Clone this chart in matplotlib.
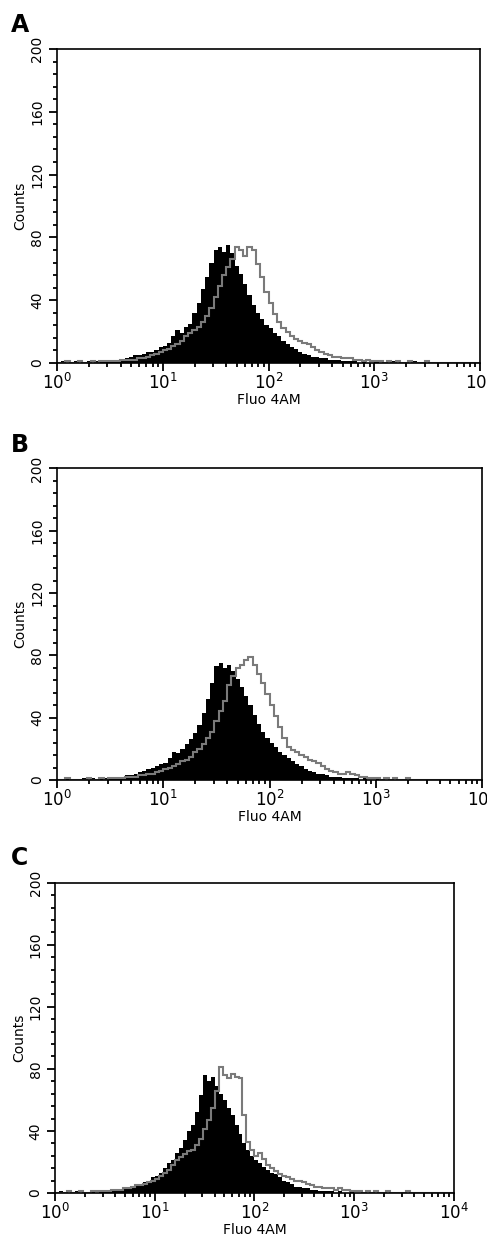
import matplotlib.pyplot as plt
import numpy as np
from matplotlib.ticker import MultipleLocator, LogLocator

# --------------------
# 0. data: counts per channel, 100 log channels from 10^0 to 10^4
n_bins = 100
x_min, x_max = 1, 1e4

A_black = [0, 1, 0, 0, 1, 0, 0, 1, 0, 1,
           1, 1, 1, 2, 2, 2, 3, 4, 5, 5,
           6, 7, 7, 8, 10, 11, 13, 17, 21, 19,
           23, 25, 32, 38, 47, 55, 64, 72, 74, 71,
           75, 70, 62, 57, 50, 43, 37, 32, 28, 24,
           22, 19, 17, 14, 12, 10, 9, 7, 6, 5,
           4, 4, 3, 3, 2, 2, 2, 1, 1, 1,
           1, 0, 1, 0, 0, 1, 0, 0, 0, 1,
           0, 0, 0, 0, 1, 0, 0, 0, 0, 0,
           0, 0, 0, 0, 0, 0, 0, 0, 0, 0]
A_gray = [0, 0, 1, 0, 0, 1, 0, 0, 1, 0,
          1, 1, 1, 1, 1, 2, 2, 2, 2, 3,
          3, 4, 5, 6, 7, 8, 9, 11, 12, 14,
          17, 19, 21, 23, 26, 30, 35, 42, 49, 56,
          61, 66, 74, 72, 68, 74, 72, 63, 55, 45,
          38, 31, 26, 22, 20, 17, 15, 14, 13, 12,
          10, 8, 7, 6, 5, 4, 4, 3, 3, 3,
          2, 2, 1, 2, 1, 1, 1, 0, 1, 0,
          1, 0, 0, 1, 0, 0, 0, 1, 0, 0,
          0, 0, 0, 0, 0, 0, 0, 0, 0, 0]

B_black = [0, 0, 1, 0, 0, 0, 1, 0, 1, 0,
           1, 1, 1, 2, 1, 2, 3, 3, 4, 5,
           6, 7, 8, 9, 10, 11, 14, 18, 17, 20,
           23, 26, 30, 35, 43, 52, 62, 73, 75, 72,
           74, 70, 65, 60, 54, 48, 42, 36, 31, 27,
           24, 21, 18, 16, 14, 12, 10, 9, 7, 6,
           5, 4, 4, 3, 2, 2, 2, 1, 1, 1,
           1, 0, 1, 0, 0, 1, 0, 0, 0, 0,
           0, 0, 0, 0, 0, 0, 0, 0, 0, 0,
           0, 0, 0, 0, 0, 0, 0, 0, 0, 0]
B_gray = [0, 0, 1, 0, 0, 0, 0, 1, 0, 0,
          1, 0, 1, 1, 1, 1, 2, 2, 2, 3,
          3, 4, 4, 5, 6, 7, 8, 9, 10, 12,
          13, 15, 18, 20, 23, 27, 31, 38, 44, 51,
          61, 67, 72, 74, 77, 79, 74, 68, 62, 55,
          48, 41, 34, 27, 21, 19, 18, 16, 15, 13,
          12, 11, 9, 7, 6, 5, 4, 4, 5, 4,
          3, 2, 2, 1, 1, 1, 0, 1, 0, 1,
          0, 0, 1, 0, 0, 0, 0, 0, 0, 0,
          0, 0, 0, 0, 0, 0, 0, 0, 0, 0]

C_black = [0, 1, 0, 0, 0, 1, 0, 0, 0, 1,
           0, 1, 1, 1, 2, 2, 2, 3, 3, 4,
           5, 6, 7, 8, 10, 11, 13, 16, 19, 21,
           26, 29, 34, 40, 44, 52, 63, 76, 72, 75,
           69, 64, 60, 55, 50, 44, 38, 32, 28, 24,
           21, 19, 17, 15, 13, 12, 10, 8, 7, 6,
           4, 4, 3, 3, 2, 2, 1, 1, 1, 1,
           0, 1, 0, 0, 1, 0, 0, 0, 0, 0,
           0, 0, 0, 0, 0, 0, 0, 0, 0, 0,
           0, 0, 0, 0, 0, 0, 0, 0, 0, 0]
C_gray = [0, 0, 0, 1, 0, 0, 1, 0, 0, 1,
          1, 1, 1, 1, 2, 2, 2, 3, 3, 4,
          5, 5, 6, 7, 8, 9, 11, 13, 15, 18,
          21, 23, 25, 27, 28, 31, 35, 41, 47, 55,
          66, 81, 76, 74, 77, 75, 74, 50, 33, 28,
          24, 26, 22, 18, 16, 14, 12, 11, 10, 9,
          8, 8, 7, 6, 5, 4, 4, 3, 3, 3,
          2, 3, 2, 2, 1, 1, 1, 0, 1, 0,
          1, 0, 0, 1, 0, 0, 0, 0, 1, 0,
          0, 0, 0, 0, 0, 0, 0, 0, 0, 0]

panel_labels = ["A", "B", "C"]
panels = [(A_black, A_gray), (B_black, B_gray), (C_black, C_gray)]
y_ticks = [0, 40, 80, 120, 160, 200]

# axes boxes in figure fraction [left, bottom, width, height]
boxes = [[0.117, 0.7075, 0.869, 0.253],
         [0.117, 0.3715, 0.873, 0.251],
         [0.113, 0.0387, 0.819, 0.250]]
label_y = [0.974, 0.636, 0.303]

# --------------------
# 1. figure
fig = plt.figure(figsize=(4.87, 12.41), dpi=100)
edges = np.logspace(np.log10(x_min), np.log10(x_max), n_bins + 1)

for i, (black, gray) in enumerate(panels):
    ax = fig.add_axes(boxes[i])
    ax.stairs(black, edges, fill=True, color="black", baseline=0)
    ax.stairs(gray, edges, color="#7a7a7a", lw=1.5, baseline=None)

    ax.set_xscale("log")
    ax.set_xlim(x_min, x_max)
    ax.set_ylim(0, 200)
    ax.set_yticks(y_ticks)
    ax.yaxis.set_minor_locator(MultipleLocator(8))
    ax.xaxis.set_major_locator(LogLocator(base=10, numticks=10))
    ax.xaxis.set_minor_locator(LogLocator(base=10, subs=np.arange(2, 10), numticks=10))

    ax.tick_params(which="both", direction="out", top=False, right=False, width=1.3)
    ax.tick_params(which="major", length=6)
    ax.tick_params(which="minor", length=3)
    ax.tick_params(axis="x", labelsize=12, pad=1)
    ax.tick_params(axis="y", labelsize=10, pad=3)
    for t in ax.get_yticklabels():
        t.set_rotation(90)
        t.set_va("center")
    for s in ax.spines.values():
        s.set_linewidth(1.2)

    ax.set_xlabel("Fluo 4AM", fontsize=10, labelpad=0)
    ax.set_ylabel("Counts", fontsize=10, labelpad=2)

    fig.text(0.022, label_y[i], panel_labels[i], fontsize=17, weight="bold")

plt.savefig("out.png", dpi=100)
plt.close()
